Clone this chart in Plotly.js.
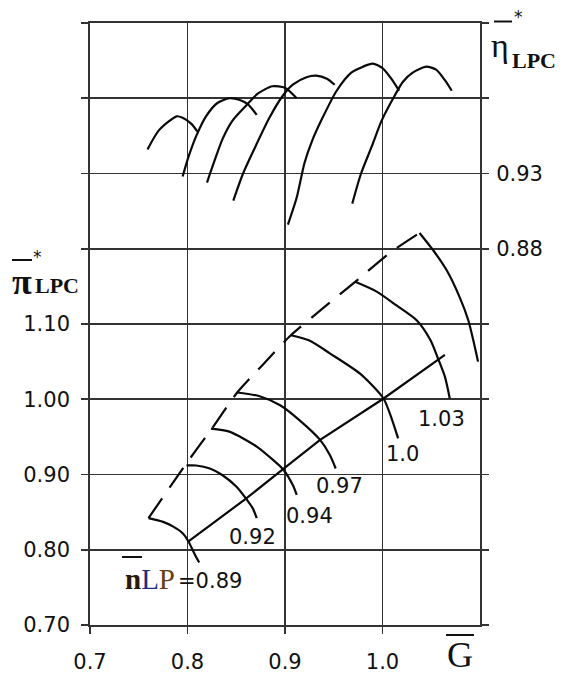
<!DOCTYPE html>
<html>
<head>
<meta charset="utf-8">
<script src="https://cdn.plot.ly/plotly-3.0.1.min.js"></script>
<style>
html,body{margin:0;padding:0;background:#fff;}
#chart{width:563px;height:674px;}
</style>
</head>
<body>
<div id="chart"></div>
<script>
// ---- Efficiency characteristics (right axis, eta*) ----
const effG1 = [0.759,0.771,0.789,0.795,0.804,0.810];
const effEta1 = [0.946,0.959,0.968,0.967,0.963,0.958];
const effG2 = [0.795,0.801,0.809,0.819,0.831,0.843,0.853,0.862,0.871];
const effEta2 = [0.928,0.941,0.955,0.968,0.977,0.980,0.979,0.976,0.969];
const effG3 = [0.820,0.828,0.836,0.846,0.860,0.872,0.887,0.900,0.912];
const effEta3 = [0.924,0.939,0.953,0.965,0.975,0.983,0.988,0.987,0.980];
const effG4 = [0.847,0.857,0.869,0.884,0.897,0.908,0.922,0.932,0.943,0.951];
const effEta4 = [0.912,0.930,0.947,0.967,0.981,0.989,0.994,0.995,0.993,0.989];
const effG5 = [0.903,0.912,0.920,0.928,0.937,0.953,0.968,0.980,0.990,1.000,1.009,1.017];
const effEta5 = [0.896,0.914,0.937,0.952,0.965,0.985,0.997,1.001,1.003,1.000,0.993,0.985];
const effG6 = [0.969,0.978,0.989,0.999,1.011,1.021,1.031,1.045,1.055,1.064,1.071];
const effEta6 = [0.910,0.930,0.948,0.965,0.980,0.991,0.997,1.001,0.999,0.992,0.985];

// ---- Pressure-ratio speed lines (left axis, pi*) ----
const spdG089 = [0.760,0.775,0.785,0.795,0.801,0.807,0.812];
const spdPi089 = [0.842,0.837,0.831,0.822,0.811,0.795,0.783];
const spdG092 = [0.799,0.809,0.823,0.836,0.850,0.860,0.867,0.871];
const spdPi092 = [0.912,0.912,0.908,0.899,0.884,0.868,0.855,0.842];
const spdG094 = [0.824,0.843,0.871,0.888,0.898,0.908,0.912];
const spdPi094 = [0.961,0.957,0.937,0.919,0.907,0.886,0.873];
const spdG097 = [0.851,0.874,0.895,0.915,0.936,0.946,0.952];
const spdPi097 = [1.009,1.004,0.992,0.972,0.946,0.926,0.908];
const spdG100 = [0.906,0.925,0.946,0.977,1.001,1.010,1.016];
const spdPi100 = [1.085,1.078,1.061,1.034,1.001,0.972,0.948];
const spdG103 = [0.972,0.994,1.014,1.035,1.049,1.057,1.064,1.069];
const spdPi103 = [1.156,1.143,1.125,1.105,1.079,1.054,1.030,1.001];
const spdGmax = [1.038,1.052,1.066,1.079,1.088,1.093,1.098];
const spdPimax = [1.221,1.198,1.171,1.136,1.105,1.079,1.050];

// ---- Surge line (dashed) ----
const surgeG = [0.760,0.799,0.825,0.851,0.878,0.906,0.939,0.972,1.008,1.038];
const surgePi = [0.842,0.915,0.961,1.009,1.047,1.085,1.121,1.156,1.195,1.221];

// ---- Operating line ----
const opG = [0.801,0.860,0.898,0.936,1.000,1.057,1.064];
const opPi = [0.811,0.868,0.907,0.946,1.000,1.052,1.059];

// ---- Tick labels ----
const xTickVals = [0.7,0.8,0.9,1.0];
const xTickText = ['0.7','0.8','0.9','1.0'];
const yTickVals = [0.7,0.8,0.9,1.0,1.1,1.2,1.3,1.4,1.5];
const yTickText = ['0.70','0.80','0.90','1.00','1.10','','','',''];
const y2TickVals = [0.88,0.93];
const y2TickText = ['0.88','0.93'];

// ---- Speed labels ----
const speedLabels = ['0.92','0.94','0.97','1.0','1.03'];
const speedLabelG = [0.867,0.925,0.956,1.021,1.060];
const speedLabelPi = [0.817,0.845,0.885,0.927,0.974];
const firstSpeedText = '=0.89';

const lineStyle = {color:'#0a0a0a', width:2.2};
const traces = [];
function add(x, y, axis, extra){
  traces.push(Object.assign({x:x, y:y, yaxis:axis, type:'scatter', mode:'lines',
    line:Object.assign({}, lineStyle, {shape:'spline', smoothing:0.7}), hoverinfo:'skip', showlegend:false}, extra||{}));
}
[[effG1,effEta1],[effG2,effEta2],[effG3,effEta3],[effG4,effEta4],[effG5,effEta5],[effG6,effEta6]]
  .forEach(p => add(p[0], p[1], 'y2'));
[[spdG089,spdPi089],[spdG092,spdPi092],[spdG094,spdPi094],[spdG097,spdPi097],[spdG100,spdPi100],[spdG103,spdPi103],[spdGmax,spdPimax]]
  .forEach(p => add(p[0], p[1], 'y'));
add(surgeG, surgePi, 'y', {line:{color:'#0a0a0a', width:2.2, dash:'24px,13px', shape:'spline', smoothing:0.6}});
add(opG, opPi, 'y', {line:{color:'#0a0a0a', width:2.2, shape:'linear'}});

// pixel -> paper helpers for text placement
const L=90, R=480, T=23, B=625;
const px = v => (v - L)/(R - L);
const py = v => (B - v)/(B - T);

const annFont = {family:'DejaVu Sans', size:21, color:'#111'};
const annotations = [];
speedLabels.forEach((t,i) => annotations.push({xref:'x', yref:'y', x:speedLabelG[i], y:speedLabelPi[i],
  text:t, showarrow:false, font:annFont, xanchor:'center', yanchor:'middle'}));
annotations.push({xref:'paper', yref:'paper', x:px(176), y:py(581), text:firstSpeedText, showarrow:false,
  font:annFont, xanchor:'left', yanchor:'middle'});
annotations.push({xref:'paper', yref:'paper', x:px(123), y:py(579), showarrow:false, xanchor:'left', yanchor:'middle',
  text:'<b><span style="color:#2a1a08">n</span></b><span style="color:#1a2f7a">L</span><span style="color:#6a4010">P</span>',
  font:{family:'Liberation Serif', size:29, color:'#111'}});
// eta title
annotations.push({xref:'paper', yref:'paper', x:px(500), y:py(46), text:'η', showarrow:false,
  font:{family:'Liberation Serif', size:34, color:'#111'}, xanchor:'center', yanchor:'middle'});
annotations.push({xref:'paper', yref:'paper', x:px(510), y:py(60), text:'<b>LPC</b>', showarrow:false,
  font:{family:'Liberation Serif', size:22, color:'#111'}, xanchor:'left', yanchor:'middle'});
annotations.push({xref:'paper', yref:'paper', x:px(518), y:py(17), text:'*', showarrow:false,
  font:{family:'DejaVu Sans', size:17, color:'#111'}, xanchor:'center', yanchor:'middle'});
// pi title
annotations.push({xref:'paper', yref:'paper', x:px(22), y:py(282), text:'<b>π</b>', showarrow:false,
  font:{family:'Liberation Serif', size:36, color:'#111'}, xanchor:'center', yanchor:'middle'});
annotations.push({xref:'paper', yref:'paper', x:px(33), y:py(285), text:'<b>LPC</b>', showarrow:false,
  font:{family:'Liberation Serif', size:22, color:'#111'}, xanchor:'left', yanchor:'middle'});
annotations.push({xref:'paper', yref:'paper', x:px(37), y:py(257), text:'*', showarrow:false,
  font:{family:'DejaVu Sans', size:17, color:'#111'}, xanchor:'center', yanchor:'middle'});
// G title
annotations.push({xref:'paper', yref:'paper', x:px(460), y:py(655), text:'G', showarrow:false,
  font:{family:'Liberation Serif', size:36, color:'#111'}, xanchor:'center', yanchor:'middle'});

const bar = (x0,x1,y) => ({type:'line', xref:'paper', yref:'paper', x0:px(x0), x1:px(x1), y0:py(y), y1:py(y),
  line:{color:'#111', width:2}});
const shapes = [bar(494,512,21.5), bar(12,32,260), bar(446,474,635), bar(122,142,557)];

const gridC = '#333';
const tickFont = {family:'DejaVu Sans', size:21, color:'#111'};
const layout = {
  width:563, height:674,
  margin:{l:L, r:563-R, t:T, b:674-B, pad:0},
  paper_bgcolor:'#fff', plot_bgcolor:'#fff',
  showlegend:false, hovermode:false,
  xaxis:{range:[0.7,1.1], tickvals:xTickVals, ticktext:xTickText, ticks:'outside', ticklen:7, tickwidth:1.8,
    tickcolor:gridC, showgrid:true, gridcolor:gridC, gridwidth:1.8, zeroline:false,
    showline:true, linecolor:gridC, linewidth:1.8, mirror:true,
    tickfont:tickFont, ticklabelstandoff:10, fixedrange:true},
  yaxis:{range:[0.7,1.5], tickvals:yTickVals, ticktext:yTickText, ticks:'outside', ticklen:7, tickwidth:1.8,
    tickcolor:gridC, showgrid:true, gridcolor:gridC, gridwidth:1.8, zeroline:false,
    showline:true, linecolor:gridC, linewidth:1.8, mirror:'allticks',
    tickfont:tickFont, ticklabelstandoff:7, fixedrange:true},
  yaxis2:{overlaying:'y', side:'right', range:[0.63,1.03], tickvals:y2TickVals, ticktext:y2TickText,
    ticks:'outside', ticklen:7, tickwidth:1.8, tickcolor:gridC, showgrid:false, zeroline:false, showline:false,
    tickfont:tickFont, ticklabelstandoff:4, fixedrange:true},
  annotations:annotations,
  shapes:shapes
};
Plotly.newPlot('chart', traces, layout, {staticPlot:true, displayModeBar:false});
</script>
</body>
</html>
